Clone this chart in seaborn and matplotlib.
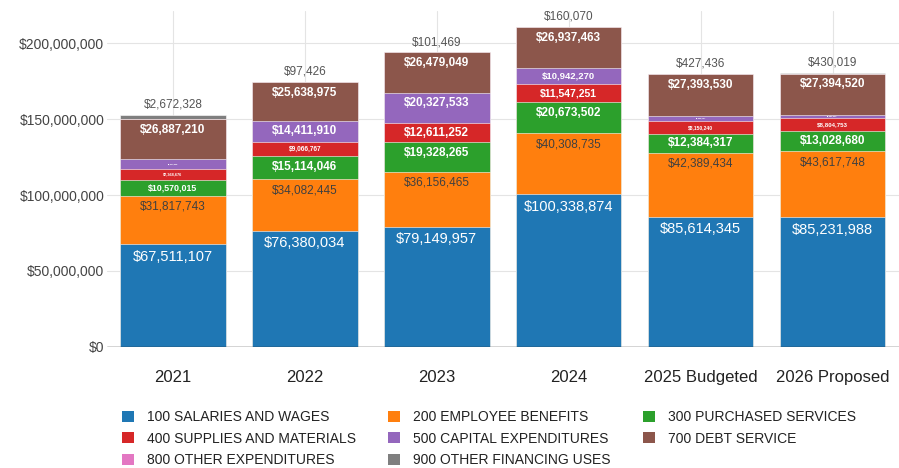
import numpy as np
import matplotlib
matplotlib.use("Agg")
import matplotlib.pyplot as plt
from matplotlib.patches import Patch
from matplotlib.ticker import FuncFormatter, FixedLocator
import seaborn as sns

# ---- data ----
years = ["2021", "2022", "2023", "2024", "2025 Budgeted", "2026 Proposed"]
series = ["100 SALARIES AND WAGES", "200 EMPLOYEE BENEFITS", "300 PURCHASED SERVICES",
          "400 SUPPLIES AND MATERIALS", "500 CAPITAL EXPENDITURES", "700 DEBT SERVICE",
          "800 OTHER EXPENDITURES", "900 OTHER FINANCING USES"]

salaries = [67511107, 76380034, 79149957, 100338874, 85614345, 85231988]
benefits = [31817743, 34082445, 36156465, 40308735, 42389434, 43617748]
purchased = [10570015, 15114046, 19328265, 20673502, 12384317, 13028680]
supplies = [7368676, 9066767, 12611252, 11547251, 8150240, 8804753]
capital = [6204558, 14411910, 20327533, 10942270, 3598767, 1985230]
debt = [26887210, 25638975, 26479049, 26937463, 27393530, 27394520]
other_exp = [0, 0, 0, 160070, 0, 0]
financing = [2672328, 97426, 101469, 0, 427436, 430019]

values = [salaries, benefits, purchased, supplies, capital, debt, other_exp, financing]
colors = ["#1f77b4", "#ff7f0e", "#2ca02c", "#d62728", "#9467bd", "#8c564b", "#e377c2", "#7f7f7f"]

sns.set_theme(style="white")
plt.rcParams["font.family"] = ["Liberation Sans", "DejaVu Sans"]

fig = plt.figure(figsize=(8.99, 4.68), dpi=100)
ax = fig.add_axes([107 / 899, 1 - 346.7 / 468, 791.5 / 899, 335.7 / 468])

vals = np.array(values, dtype=float)
cum = vals.cumsum(axis=0)

# draw from the top layer down so lower segments cover the upper ones
for k in range(len(series) - 1, -1, -1):
    sns.barplot(x=years, y=cum[k], color=colors[k], saturation=1, width=0.8,
                edgecolor="white", linewidth=0.4, errorbar=None, ax=ax, zorder=2)

ax.set_ylim(0, 221.3e6)
ax.set_xlim(-0.5, len(years) - 0.5)
ax.yaxis.set_major_locator(FixedLocator([0, 50e6, 100e6, 150e6, 200e6]))
ax.yaxis.set_major_formatter(FuncFormatter(lambda v, p: f"${v:,.0f}"))
ax.grid(True, color="#e4e4e4", linewidth=0.8)
ax.set_axisbelow(True)
for s in ax.spines.values():
    s.set_visible(False)
ax.axhline(0, color="#333333", linewidth=1.0, zorder=3)
ax.tick_params(axis="y", length=0, pad=2, labelsize=10, labelcolor="#444444")
ax.tick_params(axis="x", length=0, pad=17, labelsize=12, labelcolor="#222222")
ax.set_xlabel("")
ax.set_ylabel("")

# segment labels
px_per_unit = 303.4 / 200e6
label_font = ["Liberation Sans", "DejaVu Sans"]
for k in range(6):
    for i in range(len(years)):
        v = vals[k, i]
        if v <= 0:
            continue
        h = v * px_per_unit
        if k == 0:
            cap, col, wt = 10.5, "white", "normal"
        elif k == 1:
            cap, col, wt = 8.5, "#404040", "normal"
        else:
            cap, col, wt = 8.5, "white", "bold"
        size = float(np.clip(0.75 * (h - 7.5), 1.5, cap))
        off_px = min(h / 2, size / 0.72 * 0.5 + 5)
        ax.annotate(f"${v:,.0f}", xy=(i, cum[k, i]), xytext=(0, -off_px * 0.72),
                    textcoords="offset points", ha="center", va="center",
                    fontsize=size, color=col, fontweight=wt, family=label_font, zorder=4)

# small top-of-bar labels
for i in range(len(years)):
    top_val = other_exp[i] if other_exp[i] > 0 else financing[i]
    ax.annotate(f"${top_val:,.0f}", xy=(i, cum[-1, i]), xytext=(0, 3),
                textcoords="offset points", ha="center", va="bottom",
                fontsize=8.5, color="#555555", family=label_font)

# legend, laid out in three columns like the reference
handles = [Patch(facecolor=c, edgecolor="none") for c in colors]
cols = [[0, 3, 6], [1, 4, 7], [2, 5]]
xs = [122 / 899, 388 / 899, 643 / 899]
for idx, x0 in zip(cols, xs):
    fig.legend([handles[j] for j in idx], [series[j] for j in idx],
               loc="upper left", bbox_to_anchor=(x0, 1 - 410 / 468), frameon=False,
               fontsize=10, handlelength=0.85, handleheight=0.85, handletextpad=0.95,
               labelspacing=0.55, borderpad=0, borderaxespad=0, labelcolor="#222222")

fig.savefig("out.png", dpi=100)
